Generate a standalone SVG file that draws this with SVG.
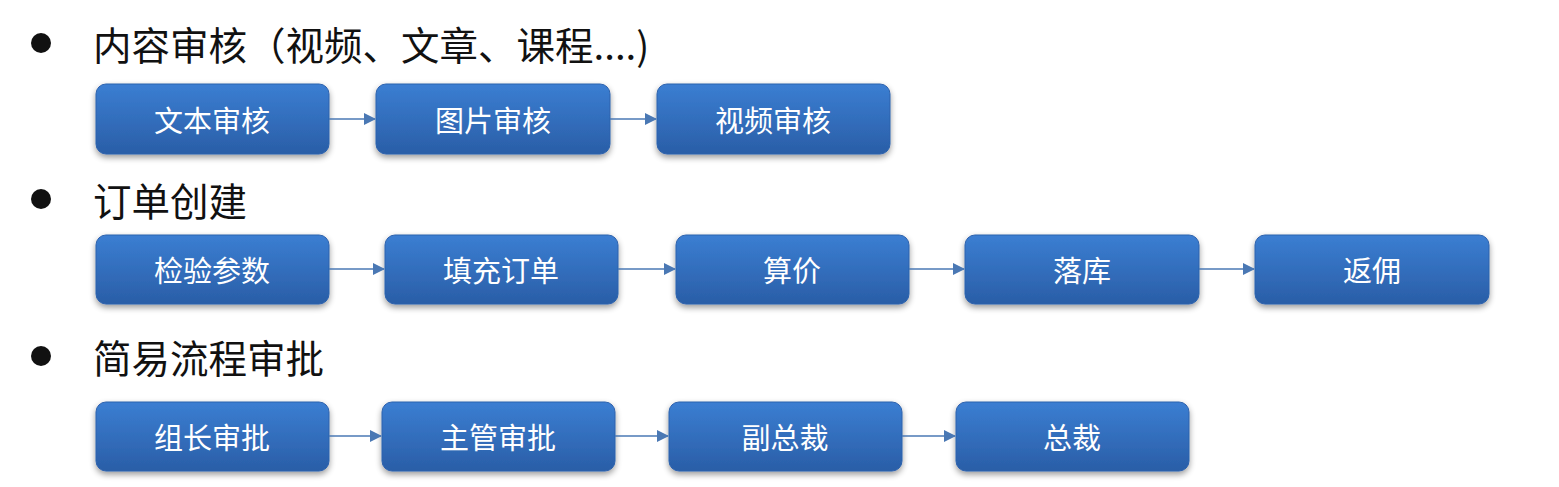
<svg xmlns="http://www.w3.org/2000/svg" width="1559" height="487" viewBox="0 0 1559 487">
<defs>
<linearGradient id="g" x1="0" y1="0" x2="0" y2="1">
<stop offset="0" stop-color="#3b7ed2"/>
<stop offset="1" stop-color="#2a5ea7"/>
</linearGradient>
<filter id="sh" x="-10%" y="-20%" width="120%" height="150%">
<feGaussianBlur in="SourceAlpha" stdDeviation="3"/>
<feOffset dx="0" dy="3" result="b"/>
<feComponentTransfer><feFuncA type="linear" slope="0.4"/></feComponentTransfer>
<feMerge><feMergeNode/><feMergeNode in="SourceGraphic"/></feMerge>
</filter>
<marker id="ah" markerWidth="12" markerHeight="12" refX="11" refY="6" orient="auto" markerUnits="userSpaceOnUse">
<path d="M0,0 L12,6 L0,12 Z" fill="#4a78b4"/>
</marker>
</defs>
<style>
.box{fill:url(#g);stroke:#2d62ad;stroke-width:1;filter:url(#sh)}
.lbl{fill:#ffffff;font-family:"Noto Sans CJK SC",sans-serif;font-size:29px;text-anchor:middle;dominant-baseline:central}
.hd{fill:#111111;font-family:"Noto Sans CJK SC",sans-serif;font-size:38.5px;dominant-baseline:central}
.con{stroke:#4a78b4;stroke-width:1.6;fill:none;marker-end:url(#ah)}
</style>
<rect width="1559" height="487" fill="#ffffff"/>
<g id="heading1"><circle cx="41" cy="43" r="10" fill="#111"/><text class="hd" x="93" y="43">内容审核（视频、文章、课程....)</text></g>
<g id="heading2"><circle cx="41" cy="199" r="10" fill="#111"/><text class="hd" x="93" y="199">订单创建</text></g>
<g id="heading3"><circle cx="41" cy="356" r="10" fill="#111"/><text class="hd" x="93" y="356">简易流程审批</text></g>

<g id="n1"><rect class="box" x="96" y="84" width="233" height="70" rx="10"/><text class="lbl" x="212" y="119">文本审核</text></g>
<g id="n2"><rect class="box" x="376" y="84" width="234" height="70" rx="10"/><text class="lbl" x="493" y="119">图片审核</text></g>
<g id="n3"><rect class="box" x="657" y="84" width="233" height="70" rx="10"/><text class="lbl" x="773" y="119">视频审核</text></g>

<g id="n4"><rect class="box" x="96" y="235" width="233" height="69" rx="10"/><text class="lbl" x="212" y="269">检验参数</text></g>
<g id="n5"><rect class="box" x="385" y="235" width="233" height="69" rx="10"/><text class="lbl" x="501" y="269">填充订单</text></g>
<g id="n6"><rect class="box" x="676" y="235" width="233" height="69" rx="10"/><text class="lbl" x="792" y="269">算价</text></g>
<g id="n7"><rect class="box" x="965" y="235" width="234" height="69" rx="10"/><text class="lbl" x="1082" y="269">落库</text></g>
<g id="n8"><rect class="box" x="1255" y="235" width="234" height="69" rx="10"/><text class="lbl" x="1372" y="269">返佣</text></g>

<g id="n9"><rect class="box" x="96" y="402" width="233" height="69" rx="10"/><text class="lbl" x="212" y="436">组长审批</text></g>
<g id="n10"><rect class="box" x="382" y="402" width="233" height="69" rx="10"/><text class="lbl" x="498" y="436">主管审批</text></g>
<g id="n11"><rect class="box" x="669" y="402" width="233" height="69" rx="10"/><text class="lbl" x="785" y="436">副总裁</text></g>
<g id="n12"><rect class="box" x="956" y="402" width="233" height="69" rx="10"/><text class="lbl" x="1072" y="436">总裁</text></g>

<g id="connectors">
<line class="con" x1="329" y1="119" x2="375" y2="119"/>
<line class="con" x1="610" y1="119" x2="656" y2="119"/>
<line class="con" x1="329" y1="269" x2="384" y2="269"/>
<line class="con" x1="618" y1="269" x2="675" y2="269"/>
<line class="con" x1="909" y1="269" x2="964" y2="269"/>
<line class="con" x1="1199" y1="269" x2="1254" y2="269"/>
<line class="con" x1="329" y1="436" x2="381" y2="436"/>
<line class="con" x1="615" y1="436" x2="668" y2="436"/>
<line class="con" x1="902" y1="436" x2="955" y2="436"/>
</g>
</svg>
